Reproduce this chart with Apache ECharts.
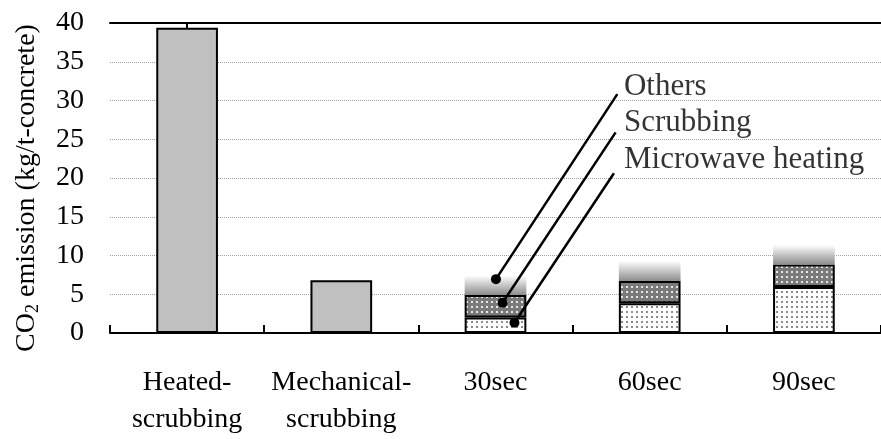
<!DOCTYPE html>
<html>
<head>
<meta charset="utf-8">
<script src="https://cdn.jsdelivr.net/npm/echarts@6/dist/echarts.min.js"></script>
<style>
  html, body { margin: 0; padding: 0; background: #fff; }
  #chart { width: 881px; height: 439px; }
</style>
</head>
<body>
<div id="chart"></div>
<script>
// categories and values
const categories = ['Heated-\nscrubbing', 'Mechanical-\nscrubbing', '30sec', '60sec', '90sec'];
const singleValues = [39.4, 6.8, '-', '-', '-'];
const microwaveValues = ['-', '-', 2.0, 3.85, 5.95];
const scrubbingValues = ['-', '-', 2.9, 2.85, 2.9];
const othersValues = ['-', '-', 2.5, 2.6, 2.5];
const yMin = 0, yMax = 40, yStep = 5;

// call-outs: names, dot point, line end, label point (data coords, x = category index)
const calloutNames = ['Others', 'Scrubbing', 'Microwave heating'];
const calloutStart = [[2.003, 6.95], [2.046, 3.9], [2.123, 1.32]];
const calloutEnd = [[2.79, 30.83], [2.779, 25.89], [2.768, 20.62]];
const calloutText = [[2.83, 31.7], [2.83, 27.1], [2.83, 22.4]];

const FONT = '"Liberation Serif", "Times New Roman", serif';

function makePattern(bg, fg, size, dot) {
  const c = document.createElement('canvas');
  c.width = size; c.height = size;
  const ctx = c.getContext('2d');
  ctx.fillStyle = bg;
  ctx.fillRect(0, 0, size, size);
  ctx.fillStyle = fg;
  ctx.fillRect(1, 1, dot, dot);
  return c;
}

const chart = echarts.init(document.getElementById('chart'), null, { renderer: 'canvas' });

const barBorder = { borderColor: '#000', borderWidth: 2 };

const series = [
  {
    name: 'Total', type: 'bar', stack: 'a', barWidth: '40%',
    data: singleValues,
    itemStyle: Object.assign({ color: '#c0c0c0' }, barBorder)
  },
  {
    name: 'Microwave heating', type: 'bar', stack: 'a', barWidth: '40%',
    data: microwaveValues,
    itemStyle: Object.assign({ color: { image: makePattern('#ffffff', '#8a8a8a', 5, 2), repeat: 'repeat' } }, barBorder)
  },
  {
    name: 'Scrubbing', type: 'bar', stack: 'a', barWidth: '40%',
    data: scrubbingValues,
    itemStyle: Object.assign({ color: { image: makePattern('#7a7a7a', '#e6e6e6', 5, 2), repeat: 'repeat' } }, barBorder)
  },
  {
    name: 'Others', type: 'bar', stack: 'a', barWidth: '40%',
    data: othersValues,
    itemStyle: {
      color: new echarts.graphic.LinearGradient(0, 0, 0, 1, [
        { offset: 0, color: '#ffffff' },
        { offset: 1, color: '#8c8c8c' }
      ])
    }
  }
];

calloutNames.forEach(function (n, i) {
  series.push({
    name: n + ' callout', type: 'line', xAxisIndex: 2, z: 10, silent: true,
    data: [
      { value: calloutStart[i], symbol: 'circle', symbolSize: 10 },
      { value: calloutEnd[i], symbol: 'none' }
    ],
    showSymbol: true,
    lineStyle: { color: '#000', width: 2.5 },
    itemStyle: { color: '#000' }
  });
});

series.push({
  name: 'callout labels', type: 'scatter', xAxisIndex: 2, z: 11, silent: true,
  symbolSize: 1,
  itemStyle: { color: 'rgba(0,0,0,0)' },
  data: calloutNames.map(function (n, i) { return { name: n, value: calloutText[i] }; }),
  label: {
    show: true, position: 'right', distance: 0, formatter: '{b}',
    fontFamily: FONT, fontSize: 31, color: '#000'
  }
});

chart.setOption({
  animation: false,
  backgroundColor: '#fff',
  grid: { left: 110, right: -9, top: 23, bottom: 106 },
  xAxis: [
    {
      type: 'category', data: categories, position: 'bottom',
      axisLine: { show: true, lineStyle: { color: '#000', width: 2 } },
      axisTick: { show: true, inside: true, length: 8, lineStyle: { color: '#000', width: 2 } },
      axisLabel: { fontFamily: FONT, fontSize: 28, color: '#000', lineHeight: 37, margin: 31, interval: 0 }
    },
    {
      type: 'category', data: categories, position: 'top',
      axisLine: { show: true, lineStyle: { color: '#000', width: 2 } },
      axisTick: { show: false }, axisLabel: { show: false }
    },
    { type: 'value', min: -0.5, max: 4.5, show: false }
  ],
  yAxis: {
    type: 'value', min: yMin, max: yMax, interval: yStep,
    name: '{a|CO}{b|2}{a| emission (kg/t-concrete)}',
    nameLocation: 'middle', nameGap: 68,
    nameTextStyle: {
      padding: [0, 20, 0, 0],
      rich: {
        a: { fontFamily: FONT, fontSize: 28, color: '#000', lineHeight: 30 },
        b: { fontFamily: FONT, fontSize: 18, color: '#000', lineHeight: 30, verticalAlign: 'bottom', padding: [12, 0, 0, 0] }
      }
    },
    axisLine: { show: true, lineStyle: { color: '#000', width: 2 } },
    axisTick: { show: true, inside: true, length: 7, lineStyle: { color: '#000', width: 2 } },
    axisLabel: { fontFamily: FONT, fontSize: 28, color: '#000', margin: 26 },
    splitLine: { show: true, lineStyle: { color: '#a0a0a0', type: 'dotted', width: 1 } }
  },
  series: series
});
</script>
</body>
</html>
